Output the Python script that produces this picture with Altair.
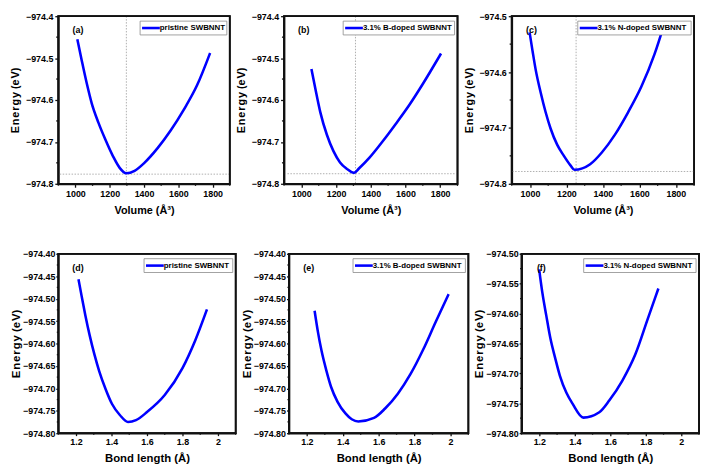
import altair as alt
import pandas as pd

# ---------------- data ----------------
vol_a = [1011, 1038, 1067, 1095, 1134, 1172, 1220, 1258, 1297, 1345, 1402, 1479, 1555, 1632, 1709, 1785]
en_a = [-974.455, -974.508, -974.562, -974.608, -974.654, -974.692, -974.735, -974.762, -974.775,
        -974.769, -974.750, -974.715, -974.673, -974.623, -974.565, -974.488]

vol_b = [1058, 1081, 1109, 1147, 1185, 1223, 1261, 1303, 1333, 1394, 1470, 1546, 1622, 1698, 1805]
en_b = [-974.526, -974.574, -974.629, -974.683, -974.722, -974.749, -974.764, -974.774, -974.763,
        -974.737, -974.698, -974.656, -974.612, -974.563, -974.489]

vol_c = [998, 1014, 1032, 1059, 1086, 1113, 1149, 1186, 1222, 1244, 1330, 1394, 1466, 1538, 1611, 1683, 1740]
en_c = [-974.529, -974.562, -974.597, -974.637, -974.672, -974.701, -974.730, -974.750, -974.767, -974.775,
        -974.765, -974.744, -974.712, -974.672, -974.626, -974.568, -974.510]

bl_d = [1.214, 1.232, 1.253, 1.277, 1.304, 1.331, 1.367, 1.403, 1.448, 1.493, 1.538, 1.600, 1.700, 1.800,
        1.870, 1.938]
en_d = [-974.457, -974.495, -974.538, -974.582, -974.625, -974.662, -974.702, -974.735, -974.760, -974.775,
        -974.771, -974.753, -974.715, -974.655, -974.595, -974.524]

bl_e = [1.243, 1.261, 1.282, 1.309, 1.335, 1.371, 1.415, 1.450, 1.486, 1.574, 1.636, 1.707, 1.778, 1.849,
        1.919, 1.990]
en_e = [-974.527, -974.573, -974.617, -974.661, -974.697, -974.730, -974.756, -974.769, -974.774, -974.766,
        -974.745, -974.712, -974.668, -974.613, -974.551, -974.490]

bl_f = [1.199, 1.217, 1.239, 1.262, 1.289, 1.316, 1.352, 1.388, 1.448, 1.538, 1.595, 1.668, 1.740, 1.812, 1.871]
en_f = [-974.526, -974.565, -974.603, -974.641, -974.674, -974.704, -974.732, -974.751, -974.774, -974.765,
        -974.745, -974.712, -974.669, -974.608, -974.558]

series_names = ["pristine SWBNNT", "3.1% B-doped SWBNNT", "3.1% N-doped SWBNNT"]
panel_letters = ["(a)", "(b)", "(c)", "(d)", "(e)", "(f)"]

vol_major = [1000, 1200, 1400, 1600, 1800]
vol_minor = [900, 1100, 1300, 1500, 1700, 1900]
bl_major = [1.2, 1.4, 1.6, 1.8, 2.0]
bl_minor = [1.1, 1.3, 1.5, 1.7, 1.9, 2.1]
e1_major = [-974.8, -974.7, -974.6, -974.5, -974.4]
e1_minor = [-974.75, -974.65, -974.55, -974.45]
e1c_major = [-974.8, -974.7, -974.6, -974.5]
e1c_minor = [-974.75, -974.65, -974.55]
e2_major = [-974.80, -974.75, -974.70, -974.65, -974.60, -974.55, -974.50, -974.45, -974.40]
e2_minor = [-974.775, -974.725, -974.675, -974.625, -974.575, -974.525, -974.475, -974.425]
e2f_major = [-974.80, -974.75, -974.70, -974.65, -974.60, -974.55, -974.50]
e2f_minor = [-974.775, -974.725, -974.675, -974.625, -974.575, -974.525]

# reference lines (minimum) for the volume panels
vmin_a, hmin_a = 1297, -974.777
vmin_b, hmin_b = 1312, -974.776
vmin_c, hmin_c = 1253, -974.778

FONT = "Liberation Sans"
BLUE = "#0000ff"
INK = "#111111"
TXT = "#000000"
YTITLE = "E\u200an\u200ae\u200ar\u200ag\u200ay  (e\u200aV)"


def make_axis(orient, vals, fmt, title, lsize, tsize, tpad, lpad, tick):
    return alt.Axis(
        orient=orient, values=vals, format=fmt, title=title, tickSize=tick,
        labelFont=FONT, labelFontWeight="bold", labelFontSize=lsize, labelColor=TXT,
        labelOverlap=False, labelPadding=lpad, labelFlush=False,
        titleFont=FONT, titleFontWeight="bold", titleFontSize=tsize, titleColor=TXT,
        titlePadding=tpad, domain=True, domainColor=INK, domainWidth=1.8,
        ticks=True, tickColor=INK, tickWidth=1.3, grid=False,
    )


def panel(xs, ys, name, letter, xdom, ydom, xmaj, xmin_, xfmt, ymaj, ymin_, yfmt, xtitle,
          w, h, lsize, tsize, xtpad, ytpad, ylpad, tick, leg_w, vline=None, hline=None):
    df = pd.DataFrame({"x": xs, "y": ys})
    xs_ = alt.Scale(domain=xdom, nice=False, zero=False)
    ys_ = alt.Scale(domain=ydom, nice=False, zero=False)
    xax = make_axis("bottom", xmaj, xfmt, xtitle, lsize, tsize, xtpad, 2, tick)
    yax = make_axis("left", ymaj, yfmt, YTITLE, lsize, tsize, ytpad, ylpad, tick)
    xenc = alt.X("x:Q", scale=xs_, axis=xax)
    yenc = alt.Y("y:Q", scale=ys_, axis=yax)
    layers = [alt.Chart(df).mark_line(color=BLUE, strokeWidth=2.6, clip=True,
                                      interpolate="monotone").encode(x=xenc, y=yenc)]
    if vline is not None:
        layers.insert(0, alt.Chart(pd.DataFrame({"x": [vline]})).mark_rule(
            color="#9a9a9a", strokeDash=[1.5, 1.5], strokeWidth=0.8).encode(x=xenc))
        layers.insert(1, alt.Chart(pd.DataFrame({"y": [hline]})).mark_rule(
            color="#9a9a9a", strokeDash=[1.5, 1.5], strokeWidth=0.8).encode(y=yenc))
    # minor ticks
    layers.append(alt.Chart(pd.DataFrame({"x": xmin_})).mark_rule(color=INK, strokeWidth=1.3).encode(
        x=xenc, y=alt.value(h), y2=alt.value(h + tick * 0.6)))
    layers.append(alt.Chart(pd.DataFrame({"y": ymin_})).mark_rule(color=INK, strokeWidth=1.3).encode(
        y=yenc, x=alt.value(0), x2=alt.value(-tick * 0.6)))
    # frame
    one = pd.DataFrame({"n": [name]})
    layers.append(alt.Chart(one).mark_rect(fill="transparent", stroke=INK, strokeWidth=1.8).encode(
        x=alt.value(0), x2=alt.value(w), y=alt.value(0), y2=alt.value(h)))
    # legend box (decoration)
    lx0, lx1, ly0, ly1 = w - 3 - leg_w, w - 3, 5, 19
    layers.append(alt.Chart(one).mark_rect(fill="white", stroke="#8a8a8a", strokeWidth=0.8).encode(
        x=alt.value(lx0), x2=alt.value(lx1), y=alt.value(ly0), y2=alt.value(ly1)))
    layers.append(alt.Chart(one).mark_rule(color=BLUE, strokeWidth=2.6).encode(
        x=alt.value(lx0 + 2), x2=alt.value(lx0 + 20), y=alt.value((ly0 + ly1) / 2)))
    layers.append(alt.Chart(one).mark_text(align="left", baseline="middle", font=FONT, fontWeight="bold",
                                            fontSize=8, color=TXT).encode(
        x=alt.value(lx0 + 20), y=alt.value((ly0 + ly1) / 2 + 0.5), text="n:N"))
    layers.append(alt.Chart(pd.DataFrame({"t": [letter]})).mark_text(
        font=FONT, fontWeight="bold", fontSize=9, color=TXT, baseline="middle").encode(
        x=alt.value(20), y=alt.value(14), text="t:N"))
    return alt.layer(*layers).properties(width=w, height=h)


VT = "Volume (Å³)"
BT = "Bond length (Å)"

H1, H2 = 170, 182
pa = panel(vol_a, en_a, series_names[0], panel_letters[0], [900, 1900], [-974.8, -974.4], vol_major, vol_minor, "d",
           e1_major, e1_minor, ".1f", VT, 174, H1, 9, 11, 7, 5, 2, 3.5, 88, vmin_a, hmin_a)
pb = panel(vol_b, en_b, series_names[1], panel_letters[1], [900, 1900], [-974.8, -974.4], vol_major, vol_minor, "d",
           e1_major, e1_minor, ".1f", VT, 176, H1, 9, 11, 7, 5, 2, 3.5, 113, vmin_b, hmin_b)
pc = panel(vol_c, en_c, series_names[2], panel_letters[2], [900, 1900], [-974.8, -974.5], vol_major, vol_minor, "d",
           e1c_major, e1c_minor, ".1f", VT, 185, H1, 9, 11, 7, 5, 2, 3.5, 115, vmin_c, hmin_c)
pd_ = panel(bl_d, en_d, series_names[0], panel_letters[3], [1.1, 2.1], [-974.8, -974.4], bl_major, bl_minor, "~f",
            e2_major, e2_minor, ".2f", BT, 180, H2, 9, 11.5, 6, 1, 1, 2.5, 90)
pe = panel(bl_e, en_e, series_names[1], panel_letters[4], [1.1, 2.1], [-974.8, -974.4], bl_major, bl_minor, "~f",
           e2_major, e2_minor, ".2f", BT, 182, H2, 9, 11.5, 6, 1, 1, 2.5, 114)
pf = panel(bl_f, en_f, series_names[2], panel_letters[5], [1.1, 2.1], [-974.8, -974.5], bl_major, bl_minor, "~f",
           e2f_major, e2f_minor, ".2f", BT, 180, H2, 9, 11.5, 6, 1, 1, 2.5, 114)

row1 = alt.hconcat(pa, pb, pc, spacing=2)
row2 = alt.hconcat(pd_, pe, pf, spacing=2)
chart = alt.vconcat(row1, row2, spacing=32).properties(
    padding={"left": 0, "top": 0, "right": 0, "bottom": 0}, background="white"
).configure_view(stroke=INK, strokeWidth=1.8)

chart.save("out.html", embed_options={"renderer": "svg", "actions": False})
